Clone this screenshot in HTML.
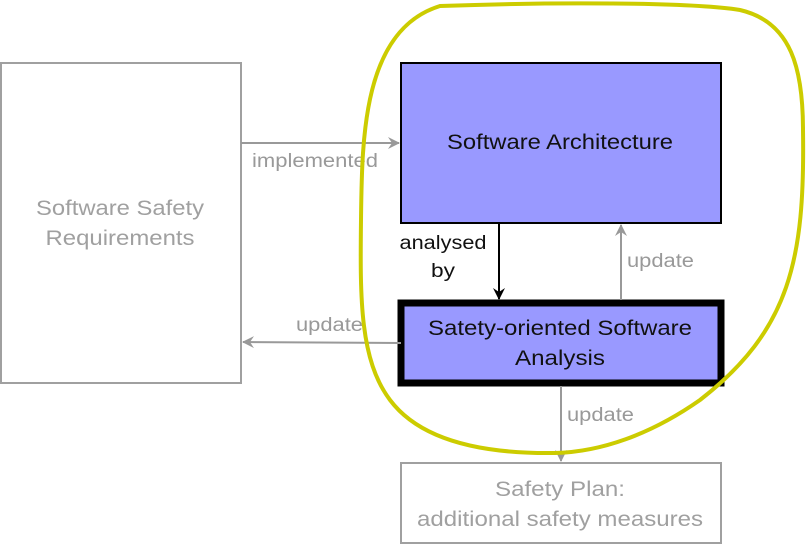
<!DOCTYPE html>
<html><head><meta charset="utf-8"><style>
body{margin:0;background:#fff}
svg{display:block}
text{font-family:"Liberation Sans",sans-serif}
</style></head><body>
<svg width="808" height="544" viewBox="0 0 808 544" xmlns="http://www.w3.org/2000/svg">
<defs>
<marker id="ag" markerWidth="12" markerHeight="12" refX="11" refY="6" orient="auto" markerUnits="userSpaceOnUse"><path d="M0,0 L12,6 L0,12 L4,6 Z" fill="#999"/></marker>
<marker id="ab" markerWidth="12" markerHeight="12" refX="11" refY="6" orient="auto" markerUnits="userSpaceOnUse"><path d="M0,0 L12,6 L0,12 L4,6 Z" fill="#000"/></marker>
</defs>
<rect x="1" y="63" width="240" height="320" fill="#fff" stroke="#a0a0a0" stroke-width="2"/>
<text x="120" y="215" font-size="21" fill="#a0a0a0" text-anchor="middle" textLength="168" lengthAdjust="spacingAndGlyphs">Software Safety</text>
<text x="120" y="245" font-size="21" fill="#a0a0a0" text-anchor="middle" textLength="149" lengthAdjust="spacingAndGlyphs">Requirements</text>
<rect x="401" y="63" width="320" height="160" fill="#9999ff" stroke="#000" stroke-width="2"/>
<text x="560" y="149" font-size="21" fill="#111" text-anchor="middle" textLength="226" lengthAdjust="spacingAndGlyphs">Software Architecture</text>
<rect x="401" y="303" width="320" height="80" fill="#9999ff" stroke="#000" stroke-width="7"/>
<text x="560" y="335" font-size="21" fill="#111" text-anchor="middle" textLength="264" lengthAdjust="spacingAndGlyphs">Satety-oriented Software</text>
<text x="560" y="365" font-size="21" fill="#111" text-anchor="middle" textLength="90" lengthAdjust="spacingAndGlyphs">Analysis</text>
<rect x="401" y="463" width="320" height="80" fill="#fff" stroke="#a0a0a0" stroke-width="2"/>
<text x="560" y="496" font-size="21" fill="#a0a0a0" text-anchor="middle" textLength="130" lengthAdjust="spacingAndGlyphs">Safety Plan:</text>
<text x="560" y="526" font-size="21" fill="#a0a0a0" text-anchor="middle" textLength="286" lengthAdjust="spacingAndGlyphs">additional safety measures</text>
<line x1="241" y1="143" x2="399" y2="143" stroke="#999" stroke-width="2" marker-end="url(#ag)"/>
<text x="252" y="167" font-size="19" fill="#999" textLength="126" lengthAdjust="spacingAndGlyphs">implemented</text>
<line x1="499" y1="223" x2="499" y2="299" stroke="#000" stroke-width="2" marker-end="url(#ab)"/>
<text x="443" y="249" font-size="19" fill="#111" text-anchor="middle" textLength="87" lengthAdjust="spacingAndGlyphs">analysed</text>
<text x="443" y="277" font-size="19" fill="#111" text-anchor="middle" textLength="24" lengthAdjust="spacingAndGlyphs">by</text>
<line x1="621" y1="300" x2="621" y2="225" stroke="#999" stroke-width="2" marker-end="url(#ag)"/>
<text x="627" y="267" font-size="19" fill="#999" textLength="67" lengthAdjust="spacingAndGlyphs">update</text>
<line x1="401" y1="343" x2="243" y2="342" stroke="#999" stroke-width="2" marker-end="url(#ag)"/>
<text x="296" y="331" font-size="19" fill="#999" textLength="67" lengthAdjust="spacingAndGlyphs">update</text>
<line x1="561" y1="386" x2="561" y2="461" stroke="#999" stroke-width="2" marker-end="url(#ag)"/>
<text x="567" y="421" font-size="19" fill="#999" textLength="67" lengthAdjust="spacingAndGlyphs">update</text>
<path d="M 440,6 C 550,2 690,2 740,10 C 792,22 803,70 803,130 C 805,260 790,330 700,400 C 650,435 600,452 555,453 C 480,454 420,440 390,400 C 360,360 360,300 361,220 C 362,140 362,30 440,6 Z" fill="none" stroke="#cccc00" stroke-width="4"/>
</svg>
</body></html>
